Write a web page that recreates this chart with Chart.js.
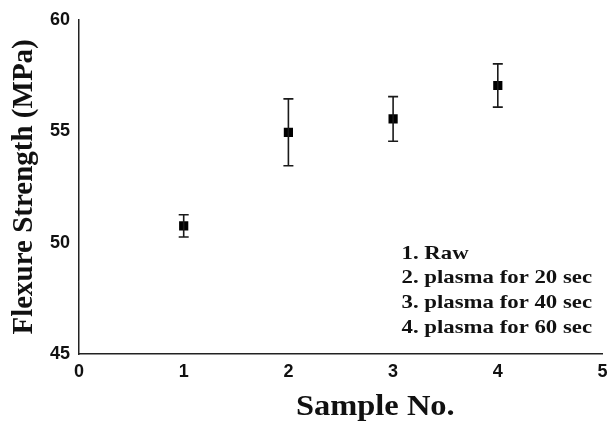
<!DOCTYPE html>
<html>
<head>
<meta charset="utf-8">
<script src="https://cdn.jsdelivr.net/npm/chart.js@4"></script>
<style>
html,body{margin:0;padding:0;background:#fff;}
#wrap{width:609px;height:421px;}
</style>
</head>
<body>
<div id="wrap"><canvas id="c" width="609" height="421"></canvas></div>
<script>
const samples = [1, 2, 3, 4];
const strength = [50.75, 54.95, 55.55, 57.05];
const errors = [0.5, 1.5, 1.0, 0.97];
const xTicks = [0, 1, 2, 3, 4, 5];
const yTicks = [45, 50, 55, 60];
const notes = ["1. Raw", "2. plasma for 20 sec", "3. plasma for 40 sec", "4. plasma for 60 sec"];
const xTitle = "Sample No.";
const yTitle = "Flexure Strength (MPa)";

const errorBars = {
  id: 'errorBars',
  afterDatasetsDraw(chart) {
    const ctx = chart.ctx, xs = chart.scales.x, ys = chart.scales.y;
    ctx.save();
    ctx.strokeStyle = '#1a1a1a';
    ctx.lineWidth = 1.6;
    samples.forEach((s, i) => {
      const px = xs.getPixelForValue(s);
      const top = ys.getPixelForValue(strength[i] + errors[i]);
      const bot = ys.getPixelForValue(strength[i] - errors[i]);
      ctx.beginPath();
      ctx.moveTo(px, top); ctx.lineTo(px, bot);
      ctx.moveTo(px - 5, top); ctx.lineTo(px + 5, top);
      ctx.moveTo(px - 5, bot); ctx.lineTo(px + 5, bot);
      ctx.stroke();
    });
    ctx.restore();
  }
};

const texts = {
  id: 'texts',
  afterDraw(chart) {
    const ctx = chart.ctx, xs = chart.scales.x, ys = chart.scales.y;
    ctx.save();
    ctx.fillStyle = '#111';
    ctx.font = 'bold 29px "Liberation Serif", "Times New Roman", serif';
    ctx.textBaseline = 'middle';
    ctx.textAlign = 'center';
    const tx = xs.getPixelForValue(2.83);
    ctx.save();
    ctx.translate(tx, 408);
    ctx.scale(1.12, 1);
    ctx.fillText(xTitle, 0, 0);
    ctx.restore();
    ctx.font = 'bold 19px "Liberation Serif", "Times New Roman", serif';
    ctx.textAlign = 'left';
    const nx = xs.getPixelForValue(3.08);
    notes.forEach((t, i) => {
      const ny = ys.getPixelForValue(49.5 - i * 1.115);
      ctx.save();
      ctx.translate(nx, ny);
      ctx.scale(1.2, 1);
      ctx.fillText(t, 0, 0);
      ctx.restore();
    });
    ctx.restore();
  }
};

new Chart(document.getElementById('c'), {
  type: 'scatter',
  data: {
    datasets: [{
      data: samples.map((s, i) => ({x: s, y: strength[i]})),
      pointStyle: 'rect',
      pointRadius: 6.5,
      pointHoverRadius: 6.5,
      backgroundColor: '#000',
      borderColor: '#000',
      borderWidth: 0
    }]
  },
  options: {
    responsive: false,
    animation: false,
    events: [],
    layout: {padding: {top: 16, right: 0, left: 0, bottom: 0}},
    plugins: {legend: {display: false}, tooltip: {enabled: false}},
    scales: {
      x: {
        type: 'linear', min: 0, max: 5,
        afterBuildTicks(scale) { scale.ticks = xTicks.map(v => ({value: v})); },
        afterFit(scale) { scale.height = 67; scale.paddingRight = 0; },
        grid: {display: false, drawTicks: false},
        border: {display: true, color: '#222', width: 1.5},
        ticks: {color: '#111', padding: 7, font: {family: '"Liberation Sans", Arial, sans-serif', size: 18, weight: 'bold'}}
      },
      y: {
        type: 'linear', min: 45, max: 60,
        afterBuildTicks(scale) { scale.ticks = yTicks.map(v => ({value: v})); },
        afterFit(scale) { scale.width = 79; },
        grid: {display: false, drawTicks: false},
        border: {display: true, color: '#222', width: 1.5},
        title: {display: true, text: yTitle, color: '#111', padding: {top: 7, bottom: 0},
          font: {family: '"Liberation Serif", "Times New Roman", serif', size: 29, weight: 'bold'}},
        ticks: {color: '#111', padding: 9, font: {family: '"Liberation Sans", Arial, sans-serif', size: 18, weight: 'bold'}}
      }
    }
  },
  plugins: [errorBars, texts]
});
</script>
</body>
</html>
